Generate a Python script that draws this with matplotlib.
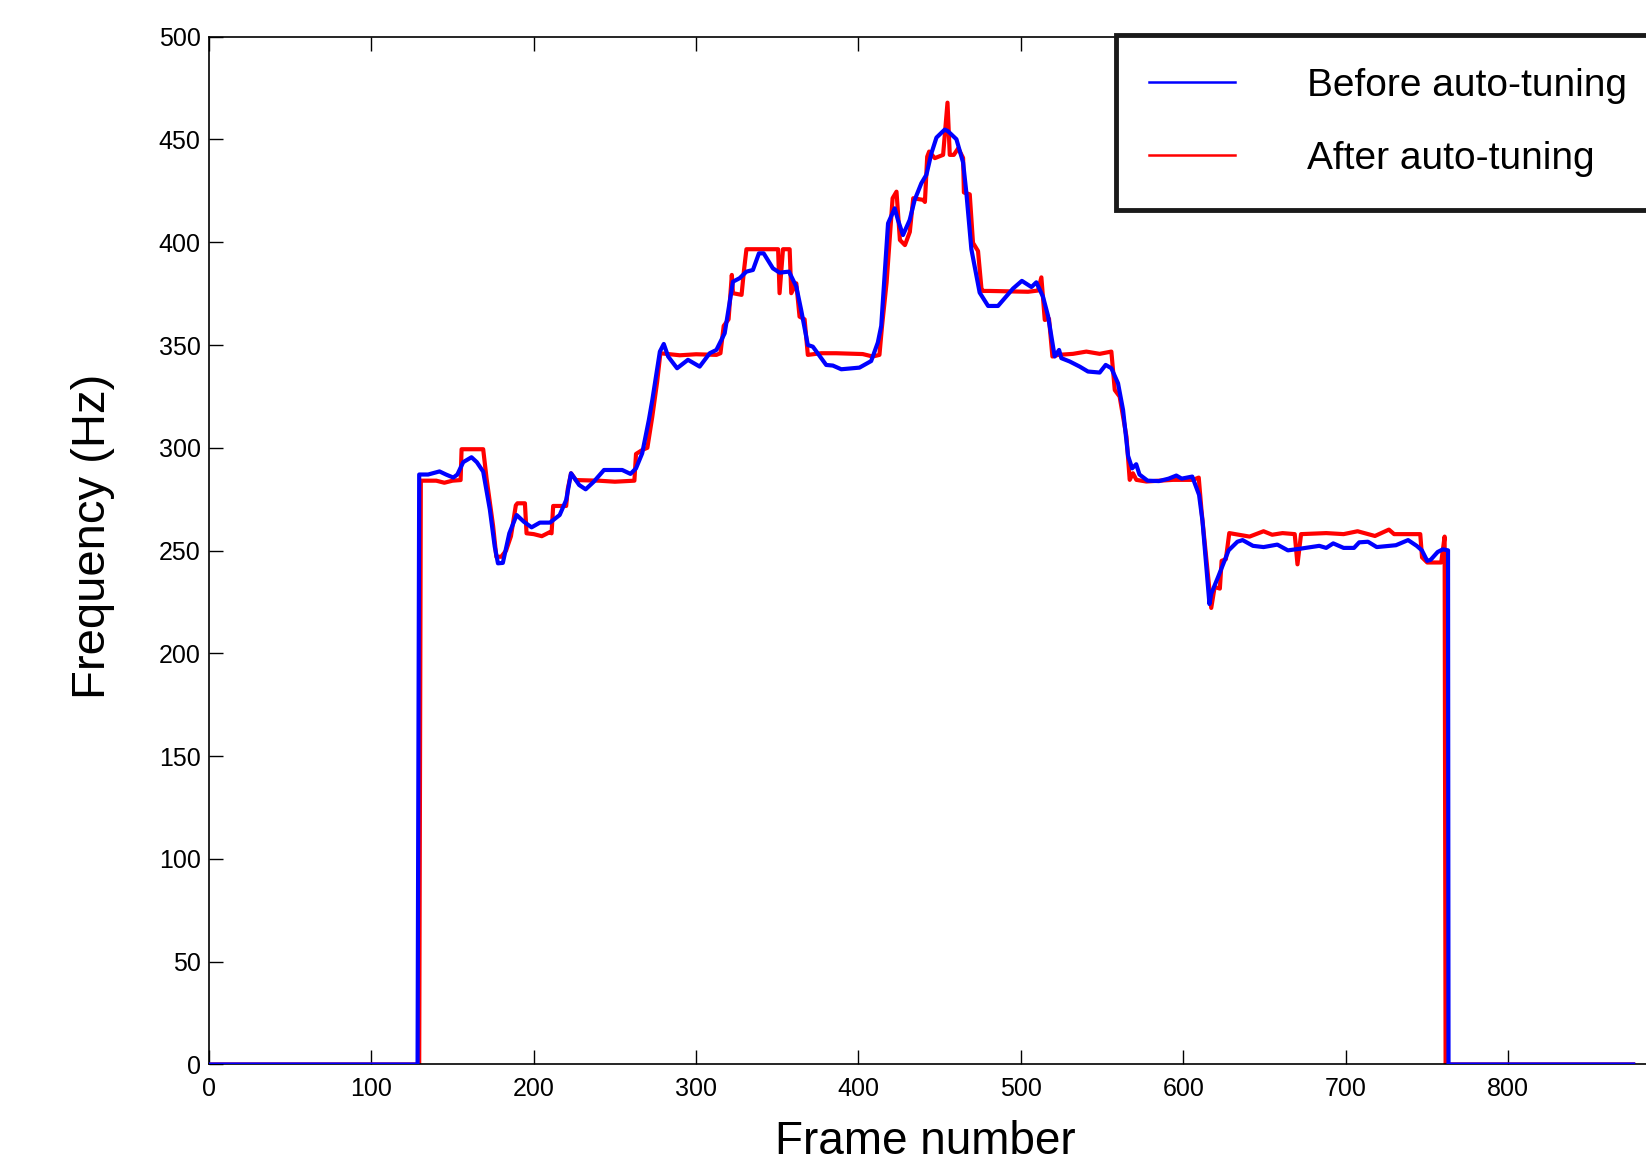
# Frequency track before / after auto-tuning
import numpy as np
import matplotlib
matplotlib.use('Agg')
import matplotlib.pyplot as plt

plt.rcParams['font.family'] = ['Liberation Sans', 'DejaVu Sans']

# SECTION 1 : DATA
#-----------------------------------------------

before_frames = [0, 128.5, 129.5, 135, 142, 146, 150.5, 153, 156.6, 161.7, 165, 168.9, 173, 176, 178, 181,
                 185, 189.5, 194, 198.7, 203.8, 210, 216, 220, 223, 228, 232, 237, 243.3, 254.5, 259.6, 263,
                 266.8, 270.9, 273, 277.7, 280.1, 282.8, 288.3, 295, 302.2, 308.4, 312.5, 317.6, 322.7, 326.8,
                 331, 335, 338.7, 341.6, 347.3, 351.4, 357.2, 361.7, 364.7, 368.8, 371.9, 380.1, 384.2, 389.4,
                 400.6, 407.8, 411.9, 414, 418.2, 422.3, 424.3, 427.4, 431.5, 434.6, 438.7, 441.8, 444.9, 448,
                 453.1, 455.1, 460.3, 464.4, 466.4, 469.5, 474.6, 479.8, 485.9, 495.2, 500.6, 506.5, 509.5,
                 513.6, 516.7, 520.8, 523.5, 524.9, 530, 536.2, 541.3, 548.5, 552.2, 555.7, 559.8, 562.9, 566,
                 568.5, 571, 573, 578, 585, 591, 595.7, 599, 605.5, 609.7, 611.8, 616.1, 617.2, 621.5, 627.9,
                 633.3, 636.5, 642.9, 649.4, 657.9, 664.4, 671.9, 683.7, 688, 692.3, 698.7, 705.1, 708.3, 713.7,
                 719.1, 730.9, 738.4, 743.7, 746.9, 750.2, 752.3, 756.6, 759.8, 763, 763.3, 877]
before_hz = [0, 0, 287, 287, 288.5, 287, 285.5, 287, 293, 295.4, 293, 288.4, 270, 252, 243.8, 244,
             258.4, 267.3, 264, 261.3, 263.6, 263.6, 267.3, 274.6, 287.6, 281.9, 279.8, 283.5, 289.2, 289.2, 287.3, 290,
             297.3, 313.5, 323, 346.8, 350.5, 344.4, 338.7, 342.8, 339.5, 346, 347.6, 355.7, 380.8, 382.5,
             385.7, 386.5, 394.6, 394.6, 387.3, 385.2, 385.7, 378.4, 367, 350, 349.2, 340.3, 340, 338.2,
             339, 342.2, 351.2, 359.3, 409.2, 416.5, 410.8, 403.5, 410.8, 420.6, 428.7, 432.8, 443.3, 450.9,
             454.8, 454, 450.1, 438.8, 424.2, 396.6, 375.5, 369, 369, 377.5, 381.2, 378.2, 380.5,
             373.5, 364.2, 344.4, 347.6, 343.6, 342, 339.5, 337.1, 336.6, 340.3, 338.7, 331.4, 318.4, 296,
             290, 292, 287, 284, 283.8, 285, 286.5, 285, 286, 277.1, 264.4, 224, 229, 237.3, 250.1,
             254.3, 255.1, 252.3, 251.7, 252.9, 250.1, 250.9, 252.3, 251.3, 253.5, 251.3, 251.3, 254, 254.3,
             251.7, 252.6, 255.1, 252.3, 250.1, 245, 245.5, 249.3, 250.6, 250.1, 0, 0]

after_frames = [0, 129.5, 130.5, 140, 145, 150, 155, 155.6, 168.9, 171, 175, 177, 180, 183, 186, 189, 190,
                194.6, 195.6, 200, 205, 210, 211, 212, 220, 221, 223, 226, 240, 250, 262, 263, 267, 270, 273,
                276, 278, 290, 300, 312.5, 315, 317, 320, 322, 322.7, 328, 329.4, 331, 350.5, 351.4, 353.5,
                357.6, 358.6, 361.7, 363.7, 366.8, 368.8, 377, 386.2, 402.6, 408.7, 412.9, 414.5, 417.3, 421,
                423.4, 425.5, 428.6, 431.6, 433.7, 439.8, 440.9, 442.3, 443.5, 447, 452.1, 454.8, 456.2, 458.7,
                461.4, 464.4, 464.9, 468.5, 470.5, 473.6, 475.7, 476.7, 480.8, 504.4, 510.5, 512.6, 514.7,
                517.3, 519.4, 522.9, 532.1, 540.3, 548.5, 555.7, 557.8, 560.8, 565, 567, 569, 571.1, 577.2,
                585.4, 593.6, 606, 609.5, 611.2, 612.9, 617.2, 619.3, 622.5, 623.6, 626.2, 628.3, 634.3, 640.8,
                649.4, 654.7, 661.1, 668.6, 670.3, 672.5, 688, 698.7, 707.3, 718, 726.6, 729.8, 745.9, 747,
                750.2, 758.8, 760.9, 761.5, 877]
after_hz = [0, 0, 284, 284, 283, 284, 284.3, 299.3, 299.3, 285, 262, 247, 247, 250, 257, 272, 273,
            273, 258.4, 258, 257, 259, 258.4, 271.7, 271.7, 280, 287.6, 284.3, 284, 283.5, 284, 297, 299, 300, 315,
            332, 346, 345, 345.5, 345.2, 346, 359.3, 362.5, 384.1, 375.2, 374.4, 385.7, 396.6, 396.6, 375.2, 396.6,
            396.6, 375.2, 380, 363.8, 362.5, 345.2, 346, 346, 345.6, 344.4, 345.2, 359.3, 380.4, 421.4,
            424.6, 401.1, 398.6, 405, 421.4, 420.6, 419.6, 441.6, 444.1, 440.9, 442.5, 467.9, 442.5, 442.5,
            445.7, 441, 424.2, 423.3, 399.7, 395.7, 377.5, 376.3, 376.3, 375.9, 376.5, 382.9, 362.2,
            362.8, 344.4, 345.2, 345.7, 346.8, 345.7, 346.8, 328.1, 324.9, 305.4, 284.4, 287.6, 284.4, 283.6,
            284, 284.4, 284.4, 285.5, 269.5, 256, 222.1, 232.3, 231.5, 245, 245.8, 258.5, 257.7, 256.8,
            259.4, 257.7, 258.5, 258, 243.3, 258, 258.5, 258, 259.4, 257.1, 260.2, 258, 258, 246.7,
            244.2, 244.2, 256.8, 0, 0]

x_ticks = [0, 100, 200, 300, 400, 500, 600, 700, 800]
y_ticks = [0, 50, 100, 150, 200, 250, 300, 350, 400, 450, 500]

# SECTION 2 : PLOTTING
#-----------------------------------------------

fig = plt.figure(figsize=(16.46, 11.64), dpi=100)
ax = fig.add_axes([0.1269, 0.0855, 0.888, 0.883])

ax.plot(after_frames, after_hz, color='#ff0000', linewidth=3, label='After auto-tuning', zorder=2)
ax.plot(before_frames, before_hz, color='#0000ff', linewidth=3, label='Before auto-tuning', zorder=3)

ax.set_xlim(0, 900)
ax.set_ylim(0, 500)
ax.set_xticks(x_ticks)
ax.set_yticks(y_ticks)
ax.tick_params(direction='in', length=10, width=1, top=True, right=True, labelsize=18)
ax.tick_params(axis='x', pad=9)
ax.tick_params(axis='y', pad=6)
for sp in ax.spines.values():
    sp.set_linewidth(1.2)

ax.set_xlabel('Frame number', fontsize=33)
ax.set_ylabel('Frequency (Hz)', fontsize=34)
ax.xaxis.set_label_coords(0.49, -0.054)
ax.yaxis.set_label_coords(-0.064, 0.514)

# legend: blue first, red second
handles, labels = ax.get_legend_handles_labels()
leg = ax.legend(handles[::-1], labels[::-1], loc='upper left',
                bbox_to_anchor=(1116 / 1646, 1 - 35 / 1164), bbox_transform=fig.transFigure,
                borderaxespad=0, fontsize=28, handlelength=2.2, handletextpad=1.85, borderpad=0.85,
                labelspacing=0.95, fancybox=False, framealpha=1, edgecolor='#1a1a1a')
leg.get_frame().set_linewidth(3.5)
for line in leg.get_lines():
    line.set_linewidth(1.8)

fig.savefig('out.png', dpi=100)
